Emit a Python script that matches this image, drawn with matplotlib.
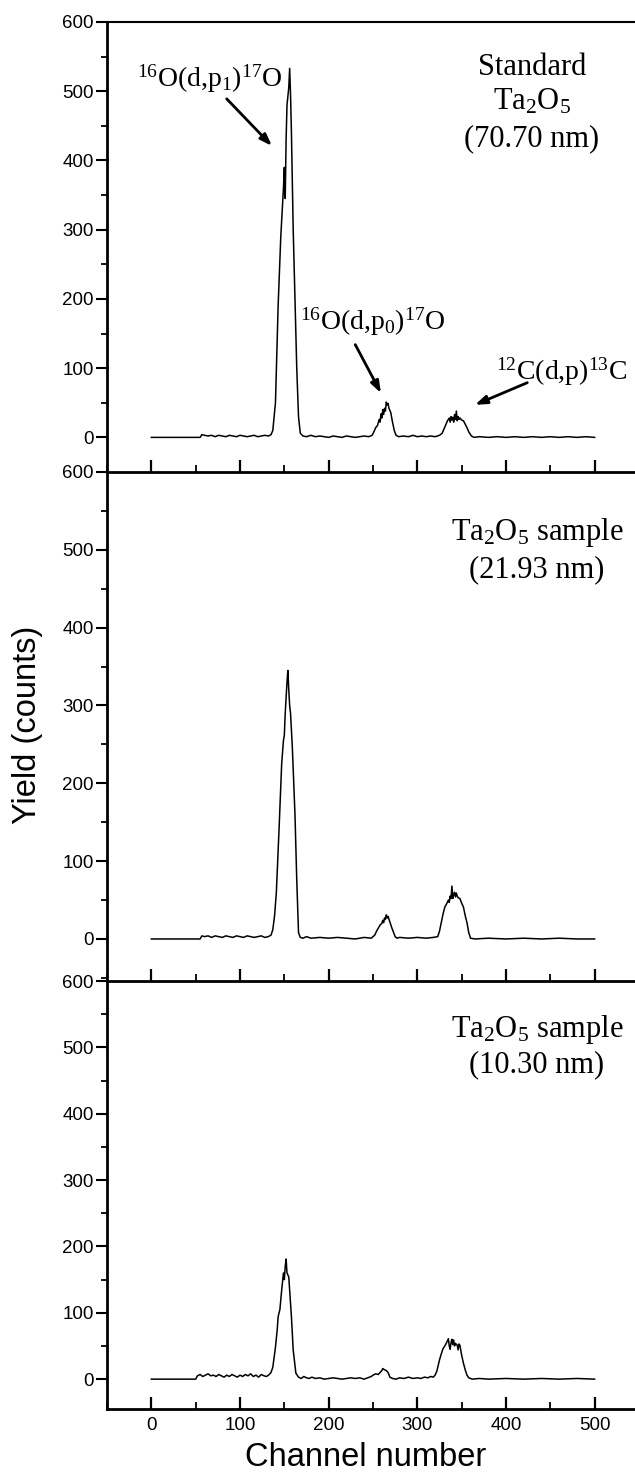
import matplotlib
matplotlib.use('Agg')
import matplotlib.pyplot as plt
from matplotlib.ticker import MultipleLocator

plt.rcParams['mathtext.fontset'] = 'custom'
plt.rcParams['mathtext.rm'] = 'Liberation Serif'
plt.rcParams['mathtext.it'] = 'Liberation Serif:italic'
plt.rcParams['font.family'] = ['Liberation Sans', 'DejaVu Sans']

# ---- data: channel, counts ----
ch_std = [0, 55, 57, 60, 64, 68, 72, 76, 80, 84,
          88, 92, 96, 100, 104, 108, 112, 116, 120, 124,
          128, 132, 135, 137, 140, 143, 146, 149, 150, 151,
          152, 153, 155, 156, 157, 158, 160, 162, 164, 166,
          168, 171, 175, 180, 185, 190, 195, 200, 205, 210,
          215, 220, 225, 230, 235, 240, 245, 249, 251, 253,
          255, 257, 258, 259, 260, 261, 262, 263, 264, 265,
          266, 267, 268, 270, 272, 274, 276, 279, 284, 290,
          295, 300, 305, 310, 315, 320, 325, 328, 330, 332,
          334, 336, 337, 338, 339, 340, 341, 342, 343, 344,
          345, 346, 347, 348, 350, 352, 354, 356, 358, 361,
          364, 370, 380, 390, 400, 410, 420, 430, 440, 450,
          460, 470, 480, 490, 500]
y_std = [0, 0, 4, 3, 2, 3, 1, 3, 2, 1,
         3, 2, 1, 3, 2, 1, 2, 3, 1, 2,
         3, 2, 4, 10, 50, 190, 290, 360, 390, 345,
         430, 480, 505, 533, 495, 440, 300, 200, 100, 30,
         6, 2, 1, 3, 1, 2, 1, 0, 2, 1,
         0, 2, 1, 0, 1, 2, 1, 3, 8, 14,
         17, 26, 22, 34, 28, 40, 33, 42, 38, 51,
         47, 49, 42, 36, 22, 10, 3, 1, 2, 1,
         3, 1, 2, 1, 2, 1, 3, 6, 12, 18,
         24, 28, 22, 30, 25, 29, 22, 33, 26, 38,
         24, 30, 26, 28, 25, 24, 19, 14, 8, 2,
         0, 1, 0, 1, 0, 1, 0, 1, 0, 1,
         0, 1, 0, 1, 0]

ch_s22 = [0, 55, 57, 60, 64, 68, 72, 76, 80, 84,
          88, 92, 96, 100, 104, 108, 112, 116, 120, 124,
          128, 132, 135, 137, 139, 141, 144, 147, 149, 150,
          151, 152, 153, 154, 155, 156, 157, 159, 162, 164,
          166, 168, 171, 175, 180, 190, 200, 210, 220, 230,
          240, 248, 252, 254, 256, 258, 260, 261, 262, 263,
          264, 265, 266, 267, 269, 271, 273, 275, 277, 280,
          290, 300, 310, 318, 323, 325, 327, 329, 331, 333,
          335, 336, 337, 338, 339, 340, 341, 342, 343, 344,
          345, 346, 348, 350, 352, 354, 356, 358, 360, 365,
          380, 400, 420, 440, 460, 480, 500]
y_s22 = [0, 0, 4, 3, 4, 2, 4, 3, 2, 4,
         3, 2, 4, 3, 2, 4, 3, 2, 3, 4,
         2, 3, 5, 12, 30, 60, 140, 225, 255, 262,
         290, 310, 330, 345, 320, 300, 290, 247, 160, 76,
         8, 2, 1, 3, 1, 2, 1, 2, 1, 0,
         2, 1, 5, 10, 14, 18, 20, 24, 21, 27,
         25, 31, 27, 29, 22, 15, 9, 3, 1, 2,
         1, 2, 1, 2, 3, 10, 21, 32, 41, 45,
         50, 47, 55, 52, 68, 52, 57, 60, 54, 59,
         55, 53, 52, 46, 41, 30, 21, 8, 1, 0,
         1, 0, 1, 0, 1, 0, 0]

ch_s10 = [0, 50, 52, 55, 58, 61, 64, 67, 70, 73,
          76, 79, 82, 85, 88, 91, 94, 97, 100, 103,
          106, 109, 112, 115, 118, 121, 124, 127, 130, 133,
          135, 137, 140, 142, 143, 145, 147, 149, 150, 151,
          152, 153, 155, 158, 160, 163, 166, 169, 172, 175,
          178, 181, 185, 190, 195, 200, 205, 210, 215, 220,
          225, 230, 235, 240, 244, 248, 250, 253, 256, 258,
          260, 261, 263, 265, 267, 269, 272, 276, 280, 285,
          290, 295, 300, 304, 308, 312, 315, 318, 320, 322,
          325, 327, 329, 331, 333, 335, 336, 337, 338, 339,
          340, 341, 342, 343, 345, 346, 347, 348, 350, 352,
          354, 356, 358, 362, 370, 380, 400, 420, 440, 460,
          480, 500]
y_s10 = [0, 0, 5, 7, 4, 6, 8, 5, 6, 4,
         7, 5, 3, 6, 4, 7, 5, 3, 6, 4,
         7, 5, 8, 4, 6, 3, 7, 5, 4, 7,
         10, 18, 48, 75, 94, 105, 134, 160, 150, 170,
         181, 160, 154, 94, 44, 9, 3, 1, 4, 2,
         1, 3, 1, 2, 0, 1, 2, 1, 0, 1,
         2, 1, 2, 0, 2, 4, 6, 8, 7, 10,
         13, 16, 14, 13, 10, 3, 1, 0, 2, 1,
         3, 1, 2, 1, 3, 2, 4, 3, 6, 12,
         29, 38, 46, 50, 55, 61, 50, 45, 55, 60,
         52, 59, 50, 54, 51, 44, 53, 51, 36, 24,
         14, 6, 2, 0, 1, 0, 1, 0, 1, 0,
         1, 0]

y_ticks = [0, 100, 200, 300, 400, 500, 600]
x_ticks = [0, 100, 200, 300, 400, 500]

W, H = 635, 1482
fig = plt.figure(figsize=(W / 100, H / 100), dpi=100)

# panel pixel boxes: (top, bottom, ylim_low)
boxes = [(22, 472, -50), (472, 981, -54), (981, 1409, -45)]
left, right = 107, 639
axes = []
for top, bot, ylo in boxes:
    ax = fig.add_axes([left / W, 1 - bot / H, (right - left) / W, (bot - top) / H])
    ax.set_xlim(-50, 550)
    ax.set_ylim(ylo, 600)
    ax.patch.set_alpha(0)
    ax.spines['right'].set_visible(False)
    ax.spines['top'].set_visible(False)
    ax.spines['left'].set_linewidth(2.0)
    ax.spines['bottom'].set_linewidth(2.0)
    ax.set_yticks(y_ticks)
    ax.yaxis.set_minor_locator(MultipleLocator(50))
    ax.set_xticks(x_ticks)
    ax.xaxis.set_minor_locator(MultipleLocator(50))
    ax.tick_params(axis='y', which='major', direction='out', length=8, width=1.5,
                   labelsize=13.5, pad=1.5)
    ax.tick_params(axis='y', which='minor', direction='out', length=4, width=1.3)
    ax.tick_params(axis='x', which='major', direction='in', length=9, width=1.6,
                   labelsize=13.5, pad=6)
    ax.tick_params(axis='x', which='minor', direction='in', length=5, width=1.3)
    axes.append(ax)

axes[0].spines['top'].set_visible(True)
axes[0].spines['top'].set_linewidth(1.5)
axes[0].tick_params(axis='x', labelbottom=False)
axes[1].tick_params(axis='x', labelbottom=False)

for ax, x, y in zip(axes, [ch_std, ch_s22, ch_s10], [y_std, y_s22, y_s10]):
    ax.plot(x, y, color='black', lw=1.1)

serif = dict(family='Liberation Serif', fontsize=22, ha='center', va='baseline')
a0 = axes[0]
a0.text(429, 523, 'Standard', **serif)
a0.text(429, 473, r'Ta$_2$O$_5$', **serif)
a0.text(429, 420, '(70.70 nm)', **serif)

axes[1].text(435, 513, r'Ta$_2$O$_5$ sample', **serif)
axes[1].text(435, 465, '(21.93 nm)', **serif)
axes[2].text(435, 515, r'Ta$_2$O$_5$ sample', **serif)
axes[2].text(435, 463, '(10.30 nm)', **serif)

arrow = dict(arrowstyle='-|>,head_length=0.7,head_width=0.25', color='black', lw=2.0,
             shrinkA=0, shrinkB=0)
lab = dict(family='Liberation Serif', fontsize=20, ha='center', va='baseline')
a0.text(66, 507, r'$^{16}$O(d,p$_1$)$^{17}$O', **lab)
a0.annotate('', xy=(136, 421), xytext=(85, 489), arrowprops=arrow)
a0.text(250, 155, r'$^{16}$O(d,p$_0$)$^{17}$O', **lab)
a0.annotate('', xy=(259, 64), xytext=(230, 134), arrowprops=arrow)
a0.text(463, 83, r'$^{12}$C(d,p)$^{13}$C', **lab)
a0.annotate('', xy=(365, 47), xytext=(424, 79), arrowprops=arrow)

fig.text(27.5 / W, 1 - 725 / H, 'Yield (counts)', rotation=90, ha='center', va='center',
         fontsize=23.5)
fig.text(366 / W, 1 - 1457 / H, 'Channel number', ha='center', va='center', fontsize=23.5)

fig.savefig('out.png', dpi=100)
